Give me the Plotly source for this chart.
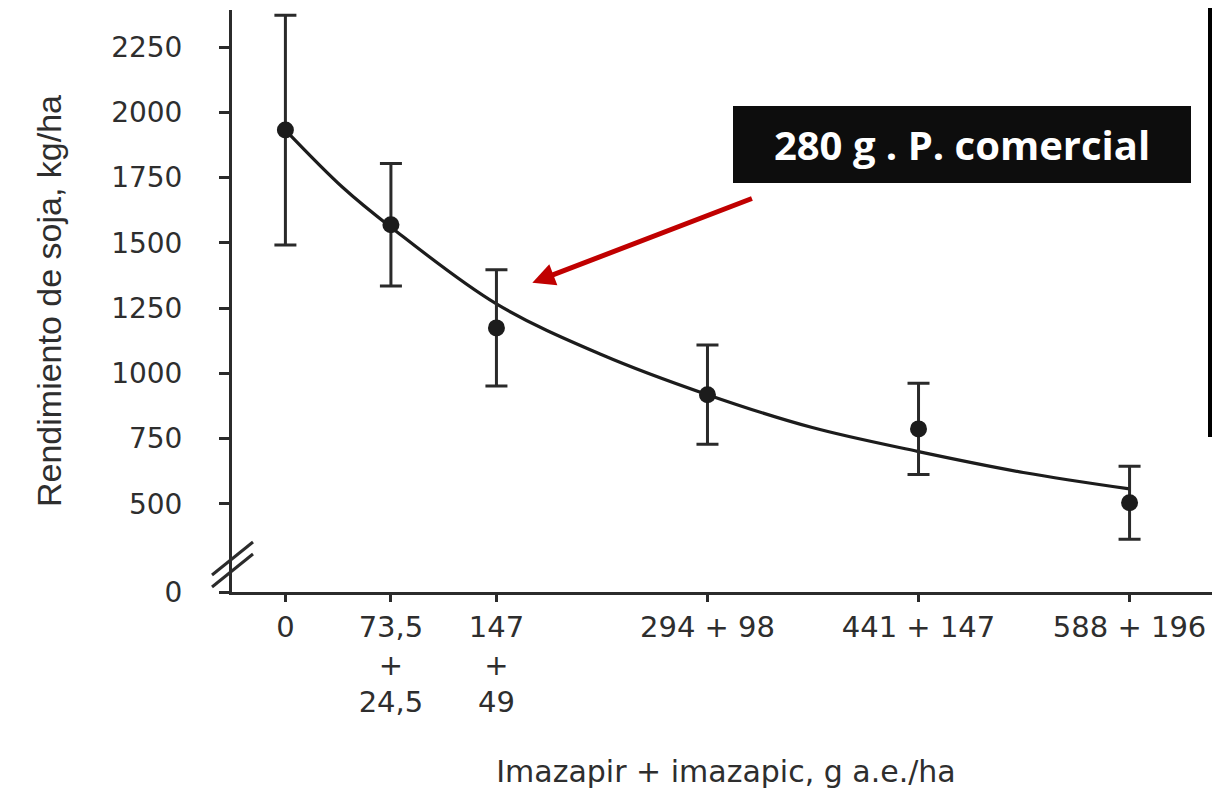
import plotly.graph_objects as go

# ---- data ----
doses = [0, 73.5, 147, 294, 441, 588]            # imazapir, g a.e./ha
dose_labels = ["0", "73,5<br>+<br>24,5", "147<br>+<br>49", "294 + 98", "441 + 147", "588 + 196"]
yield_mean = [1932, 1569, 1174, 918, 787, 504]   # kg/ha
yield_err = [440, 235, 223, 190, 175, 140]

curve_dose = [0, 40, 73.5, 147, 220, 294, 367, 441, 514, 588]
curve_yield = [1932, 1712, 1560, 1266, 1072, 918, 792, 700, 620, 557]

y_tick_vals = [500, 750, 1000, 1250, 1500, 1750, 2000, 2250]
BREAK_BASE = 162   # axis-break baseline shown as "0"

ARROW_HEAD = (172, 1347)
ARROW_TAIL = (326, 1672)
BOX_TEXT = "280 g . P. comercial"

fig = go.Figure()

fig.add_trace(go.Scatter(
    x=curve_dose, y=curve_yield, mode="lines",
    line=dict(color="#1c1c1c", width=3.2, shape="spline", smoothing=1.0),
    hoverinfo="skip", showlegend=False))

fig.add_trace(go.Scatter(
    x=doses, y=yield_mean, mode="markers",
    marker=dict(color="#1c1c1c", size=17),
    error_y=dict(type="data", array=yield_err, visible=True,
                 color="#2a2a2a", thickness=3, width=11),
    showlegend=False))

# page has an 8px body margin; figure 1212x785 fills the 1220x793 window
fig.update_layout(
    width=1212, height=785,
    margin=dict(l=224, r=0, t=2, b=201),
    paper_bgcolor="white", plot_bgcolor="white",
    xaxis=dict(
        range=[-37.2, 651], showgrid=False, zeroline=False,
        showline=True, linecolor="#2b2b2b", linewidth=3,
        tickmode="array", tickvals=doses, ticktext=dose_labels,
        ticks="outside", ticklen=7, tickwidth=3, tickcolor="#2b2b2b",
        tickfont=dict(family="DejaVu Sans", size=29, color="#2e2e2e"),
        ticklabelstandoff=0,
        title=dict(text="Imazapir + imazapic, g a.e./ha",
                   font=dict(family="DejaVu Sans", size=30, color="#2e2e2e"),
                   standoff=43),
    ),
    yaxis=dict(
        range=[BREAK_BASE, 2392], showgrid=False, zeroline=False,
        showline=True, linecolor="#2b2b2b", linewidth=3,
        tickmode="array", tickvals=[BREAK_BASE] + y_tick_vals,
        ticktext=["0"] + [str(v) for v in y_tick_vals],
        ticks="outside", ticklen=10, tickwidth=2.5, tickcolor="#2b2b2b",
        tickfont=dict(family="DejaVu Sans", size=28, color="#2e2e2e"),
        ticklabelstandoff=31,
        title=dict(text="Rendimiento de soja, kg/ha",
                   font=dict(family="Liberation Sans", size=34, color="#2e2e2e"),
                   standoff=40),
    ),
)

# axis-break marks on the y axis (plot area spans x 232..1220, y 10..592 px)
def px_to_paper(px, py):
    return (px - 232) / 988, (592 - py) / 582

for (x0, y0, x1, y1) in [(212, 575, 253, 542), (212, 587, 253, 554)]:
    a = px_to_paper(x0, y0)
    b = px_to_paper(x1, y1)
    fig.add_shape(type="line", xref="paper", yref="paper",
                  x0=a[0], y0=a[1], x1=b[0], y1=b[1],
                  line=dict(color="#2b2b2b", width=3))

# black bar at the right edge (slide border)
b0 = px_to_paper(1208, 8)
b1 = px_to_paper(1213, 437)
fig.add_shape(type="rect", xref="paper", yref="paper",
              x0=b0[0], x1=b1[0], y0=b1[1], y1=b0[1],
              fillcolor="black", line=dict(width=0), layer="above")

# black label box
cx, cy = px_to_paper(962, 144.5)
fig.add_annotation(
    xref="paper", yref="paper", x=cx, y=cy, xanchor="center", yanchor="middle",
    text="<b>" + BOX_TEXT + "</b>", showarrow=False,
    font=dict(family="Open Sans", size=40, color="white"),
    bgcolor="#0d0d0d", width=458, height=77, borderpad=0, borderwidth=0)

# red arrow
fig.add_annotation(
    x=ARROW_HEAD[0], y=ARROW_HEAD[1], xref="x", yref="y",
    ax=ARROW_TAIL[0], ay=ARROW_TAIL[1], axref="x", ayref="y",
    text="", showarrow=True, arrowhead=2, arrowsize=0.9, arrowwidth=5,
    arrowcolor="#C00000", standoff=0)

fig.write_html("out.html")
